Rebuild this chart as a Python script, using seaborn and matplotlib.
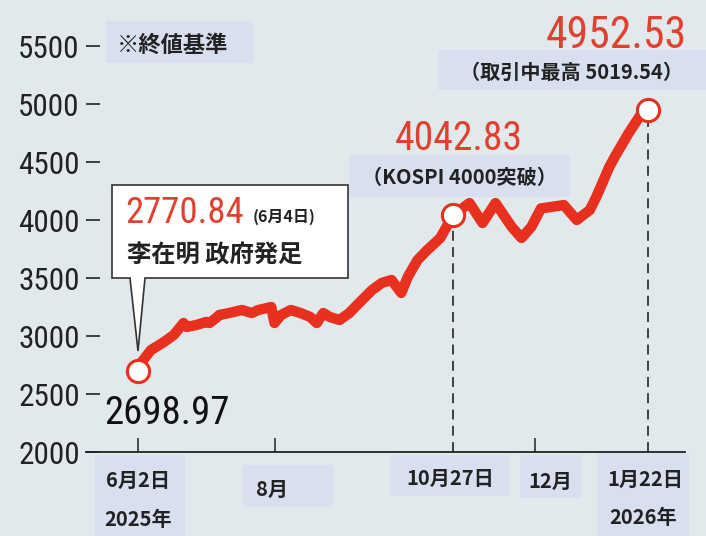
import numpy as np
import pandas as pd
import matplotlib
matplotlib.use("Agg")
import matplotlib.pyplot as plt
from matplotlib.patches import Rectangle, Polygon
from matplotlib import font_manager
import seaborn as sns

# KOSPI closing values
dates = ["2025-06-02", "2025-06-04", "2025-06-10", "2025-06-16", "2025-06-19",
         "2025-06-24", "2025-06-25", "2025-06-30", "2025-07-03", "2025-07-04",
         "2025-07-08", "2025-07-09", "2025-07-14", "2025-07-18", "2025-07-23",
         "2025-07-25", "2025-07-31", "2025-08-01", "2025-08-05", "2025-08-08",
         "2025-08-13", "2025-08-19", "2025-08-21", "2025-08-25", "2025-08-27",
         "2025-09-01", "2025-09-04", "2025-09-09", "2025-09-15", "2025-09-18",
         "2025-09-23", "2025-09-26", "2025-09-30", "2025-10-10", "2025-10-15",
         "2025-10-21", "2025-10-27", "2025-11-03", "2025-11-07", "2025-11-13",
         "2025-11-20", "2025-11-25", "2025-11-28", "2025-12-03", "2025-12-08",
         "2025-12-12", "2025-12-18", "2025-12-24", "2025-12-29", "2026-01-06",
         "2026-01-08", "2026-01-14", "2026-01-20", "2026-01-22"]
values = [2698.97, 2770.84, 2879, 2948, 3009,
          3112, 3078, 3095, 3121, 3112,
          3155, 3181, 3198, 3224, 3198,
          3224, 3250, 3112, 3181, 3224,
          3198, 3164, 3112, 3198, 3164,
          3138, 3198, 3284, 3396, 3457,
          3483, 3371, 3509, 3655, 3741,
          3845, 4042.83, 4146, 3974, 4146,
          3940, 3845, 3940, 4100, 4112,
          4129, 4000, 4086, 4198, 4457,
          4560, 4750, 4922, 4952.53]

# market holidays (the chart runs on trading days)
holidays = ["2025-06-03", "2025-06-06", "2025-08-15", "2025-10-03", "2025-10-06",
            "2025-10-07", "2025-10-08", "2025-10-09", "2025-12-25", "2025-12-31",
            "2026-01-01"]

y_ticks = [2000, 2500, 3000, 3500, 4000, 4500, 5000, 5500]
tick_dates = ["2025-06-02", "2025-08-01", "2025-12-01"]
marked_dates = ["2025-06-02", "2025-10-27", "2026-01-22"]
inauguration_date = "2025-06-04"
intraday_high = 5019.54

# x labels: text, centre x / y in pixels, box (x0, y0, x1, y1)
x_labels = ["6月2日", "2025年", "8月", "10月27日", "12月", "1月22日", "2026年"]
x_label_pos = [(138, 480), (138, 520), (272, 489), (450, 478), (550, 481),
               (645, 479), (643, 517)]
x_label_box = [(95, 455, 185, 500), (95, 500, 185, 536), (243, 465, 333, 507),
               (390, 455, 509, 496), (520, 455, 581, 498), (597, 453, 689, 498),
               (597, 498, 689, 536)]

# colours
bg = "#e2e9ec"
box = "#d8e0f0"
red = "#e8301f"
red_text = "#e2402f"
ink = "#222222"

sns.set_style("white")
plt.rcParams["font.family"] = ["Noto Sans CJK JP", "DejaVu Sans"]

names = {f.name for f in font_manager.fontManager.ttflist}
if "Roboto Condensed" in names:
    num_font, k = "Roboto Condensed", 1.0
else:
    num_font, k = "Liberation Sans", 0.85


def trading_day(d):
    return np.busday_count(dates[0], d, holidays=holidays)


df = pd.DataFrame({"date": dates, "kospi": values})
df["day"] = [trading_day(d) for d in df["date"]]
marked = df[df["date"].isin(marked_dates)]

W, H = 706, 536


def fx(x):
    return x / W


def fy(y):
    return 1 - y / H


fig = plt.figure(figsize=(7.06, 5.36), dpi=100, facecolor=bg)
ax = fig.add_axes([fx(86), fy(452), (685 - 86) / W, (452 - 46) / H])
ax.set_facecolor(bg)

# dashed guide lines at the two marked highs
ax.vlines(marked["day"].iloc[1:], y_ticks[0], marked["kospi"].iloc[1:],
          colors="#333333", linewidth=1.3, linestyles=(0, (5.5, 3.5)), zorder=2)

sns.lineplot(data=df, x="day", y="kospi", ax=ax, color=red, linewidth=7.5,
             solid_joinstyle="round", solid_capstyle="round", zorder=3)
sns.scatterplot(data=marked, x="day", y="kospi", ax=ax, s=256, color="white",
                edgecolor=red, linewidth=2.2, zorder=5)

ax.set_xlim(-16, 168.3)
ax.set_ylim(y_ticks[0], y_ticks[-1])

ax.set_yticks(y_ticks)
ax.set_yticklabels([str(t) for t in y_ticks], fontsize=22.5 * k, color=ink,
                   fontfamily=num_font)
ax.tick_params(axis="y", left=True, direction="in", length=10, width=1.3, pad=4.5,
               color="#333333")
ax.set_xticks([trading_day(d) for d in tick_dates])
ax.set_xticklabels([])
ax.tick_params(axis="x", bottom=True, direction="in", length=10, width=1.2,
               color="#333333")
ax.set_xlabel("")
ax.set_ylabel("")

for s in ["left", "top", "right"]:
    ax.spines[s].set_visible(False)
ax.spines["bottom"].set_color(ink)
ax.spines["bottom"].set_linewidth(1.3)


def add_box(x0, y0, x1, y1):
    ax.add_patch(Rectangle((fx(x0), fy(y1)), (x1 - x0) / W, (y1 - y0) / H,
                           transform=fig.transFigure, fc=box, ec="none",
                           clip_on=False, zorder=1))


# light boxes behind the notes
for b in [(106, 21, 253, 63), (438, 50, 706, 90), (349, 155, 570, 197)]:
    add_box(*b)

ax.text(fx(117), fy(45), "※終値基準", transform=fig.transFigure, fontsize=16,
        fontweight="bold", ha="left", va="center", color=ink)
ax.text(fx(571), fy(72), f"（取引中最高 {intraday_high:.2f}）", transform=fig.transFigure,
        fontsize=14.5, fontweight="bold", ha="center", va="center", color=ink)
ax.text(fx(459), fy(177), "（KOSPI 4000突破）", transform=fig.transFigure,
        fontsize=14.5, fontweight="bold", ha="center", va="center", color=ink)

# x labels in boxes
for t, (x, y), b in zip(x_labels, x_label_pos, x_label_box):
    add_box(*b)
    ax.text(fx(x), fy(y), t, transform=fig.transFigure, fontsize=14.5,
            fontweight="bold", ha="center", va="center", color=ink, clip_on=False)

# value labels at the marked points
first, mid, last = marked["kospi"].tolist()
ax.annotate(f"{first:.2f}", xy=(marked["day"].iloc[0], first), xytext=(-24, -38),
            textcoords="offset points", fontsize=28 * k, color="#111111",
            ha="left", va="baseline", fontfamily=num_font)
ax.annotate(f"{mid:.2f}", xy=(marked["day"].iloc[1], mid), xytext=(-42, 47),
            textcoords="offset points", fontsize=28.5 * k, color=red_text,
            ha="left", va="baseline", fontfamily=num_font)
ax.annotate(f"{last:.2f}", xy=(marked["day"].iloc[2], last), xytext=(-74, 44),
            textcoords="offset points", fontsize=31.5 * k, color=red_text,
            ha="left", va="baseline", fontfamily=num_font)

# callout for the new government
pts = [(112, 185), (348, 185), (348, 278), (145, 278), (138, 351), (130, 278), (112, 278)]
ax.add_patch(Polygon([(fx(x), fy(y)) for x, y in pts], closed=True,
                     transform=fig.transFigure, fc="white", ec="#333333",
                     linewidth=1.2, clip_on=False, zorder=6))
inaug = df.loc[df["date"] == inauguration_date, "kospi"].iloc[0]
ax.text(fx(125), fy(223), f"{inaug:.2f}", transform=fig.transFigure,
        fontsize=26.5 * k, color=red_text, ha="left", va="baseline", zorder=7,
        fontfamily=num_font)
ax.text(fx(253), fy(222), "(6月4日)", transform=fig.transFigure, fontsize=11.5,
        fontweight="bold", color=ink, ha="left", va="baseline", zorder=7)
ax.text(fx(127), fy(256), "李在明 政府発足", transform=fig.transFigure, fontsize=17.5,
        fontweight="bold", color=ink, ha="left", va="center", zorder=7)

fig.savefig("out.png", dpi=100, facecolor=bg)
